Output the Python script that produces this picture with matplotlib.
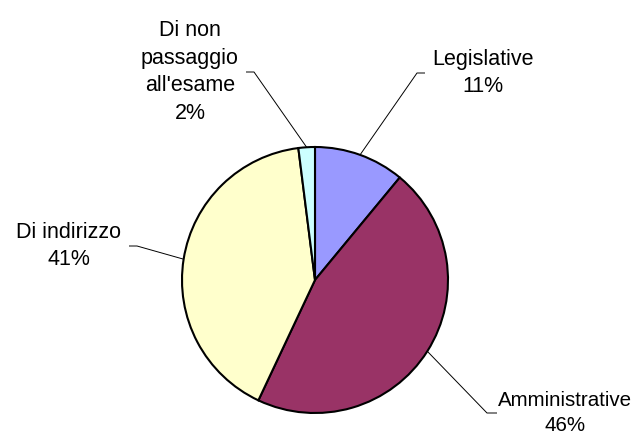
import numpy as np
import matplotlib.pyplot as plt

# === Data ===
labels = ["Legislative", "Amministrative", "Di indirizzo", "Di non\npassaggio\nall'esame"]
shares = [11, 46, 41, 2]
colors = ["#9999FF", "#993366", "#FFFFCC", "#CCFFFF"]

# label text centre and elbow of the leader line (pixel coords, y from top)
label_pos = [(483, 73), (565, 413), (69, 246), (190, 72)]
elbow_pos = [(417, 73), (487, 413), (137, 246), (254, 72)]
elbow_end = [(425, 73), (497, 413), (129, 246), (246, 72)]

W, H = 637, 432
cx, cy, r = 315, 280, 133

plt.rcParams["font.family"] = ["Liberation Sans", "DejaVu Sans"]

fig = plt.figure(figsize=(W / 100, H / 100), dpi=100)
ax = fig.add_axes([0, 0, 1, 1])

wedges, _ = ax.pie(shares, colors=colors, startangle=90, counterclock=False,
                   center=(cx, H - cy), radius=r,
                   wedgeprops=dict(edgecolor="black", linewidth=1.5))
# pie resets the limits, so set the pixel frame afterwards
ax.set_xlim(0, W)
ax.set_ylim(0, H)
ax.set_aspect("equal")
ax.axis("off")

# === Leader lines and labels ===
total = sum(shares)
start = 0.0
for i, val in enumerate(shares):
    mid = (start + val / 2) / total * 2 * np.pi
    start += val
    px = cx + r * np.sin(mid)
    py = cy - r * np.cos(mid)
    ex, ey = elbow_pos[i]
    fx, fy = elbow_end[i]
    ax.plot([px, ex, fx], [H - py, H - ey, H - fy], color="black", lw=0.7,
            solid_capstyle="butt")
    tx, ty = label_pos[i]
    ax.text(tx, H - ty, f"{labels[i]}\n{val}%", ha="center", va="center",
            fontsize=15.5 if i != 1 else 14.8, linespacing=1.42)

fig.savefig("out.png", dpi=100)
